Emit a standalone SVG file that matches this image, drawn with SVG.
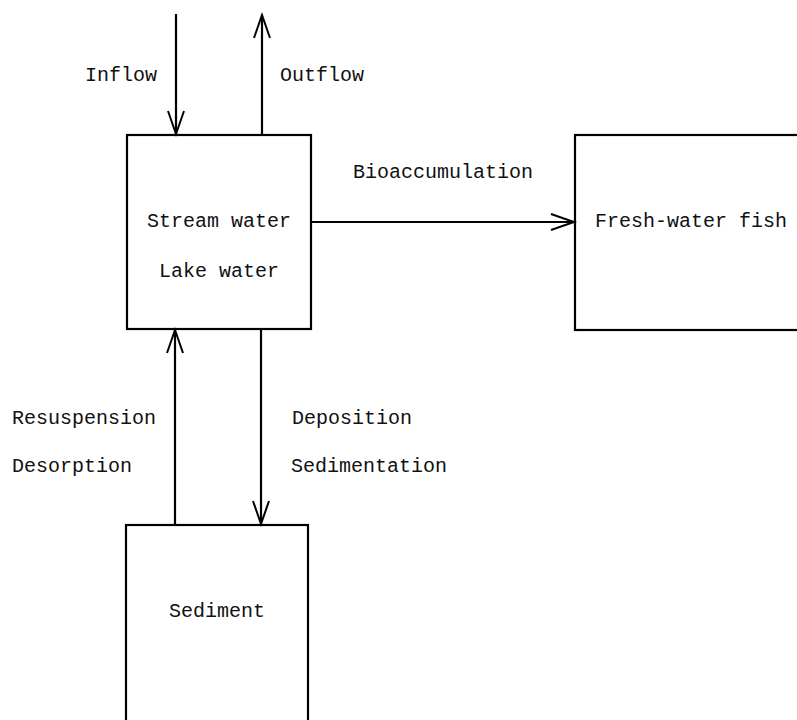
<svg xmlns="http://www.w3.org/2000/svg" width="797" height="720" viewBox="0 0 797 720">
<style>
.box{fill:none;stroke:#000;stroke-width:2.2}
.ln{fill:none;stroke:#000;stroke-width:2.2}
.hd{fill:none;stroke:#000;stroke-width:2;stroke-linejoin:miter}
text{font-family:"Liberation Mono","DejaVu Sans Mono",monospace;font-size:20px;fill:#111}
</style>
<defs>
<marker id="v" markerUnits="userSpaceOnUse" markerWidth="30" markerHeight="24" refX="0" refY="0" viewBox="-26 -12 30 24" orient="auto" overflow="visible">
<path d="M-23,-8 L0,0 L-23,8" class="hd"/>
</marker>
</defs>
<rect width="797" height="720" fill="#fff"/>
<g id="connectors">
<line class="ln" x1="176" y1="14" x2="176" y2="134" marker-end="url(#v)"/>
<line class="ln" x1="262" y1="135" x2="262" y2="15" marker-end="url(#v)"/>
<line class="ln" x1="311" y1="222" x2="574" y2="222" marker-end="url(#v)"/>
<line class="ln" x1="175" y1="525" x2="175" y2="330" marker-end="url(#v)"/>
<line class="ln" x1="261" y1="329" x2="261" y2="524" marker-end="url(#v)"/>
<text x="85" y="81">Inflow</text>
<text x="280" y="81">Outflow</text>
<text x="353" y="178">Bioaccumulation</text>
<text x="12" y="424">Resuspension</text>
<text x="12" y="472">Desorption</text>
<text x="292" y="424">Deposition</text>
<text x="291" y="472">Sedimentation</text>
</g>
<g id="water">
<rect class="box" x="127" y="135" width="184" height="194"/>
<text x="147" y="227">Stream water</text>
<text x="159" y="277">Lake water</text>
</g>
<g id="fish">
<rect class="box" x="575" y="135" width="240" height="195"/>
<text x="595" y="227">Fresh-water fish</text>
</g>
<g id="sediment">
<rect class="box" x="126" y="525" width="182" height="220"/>
<text x="169" y="617">Sediment</text>
</g>
</svg>
